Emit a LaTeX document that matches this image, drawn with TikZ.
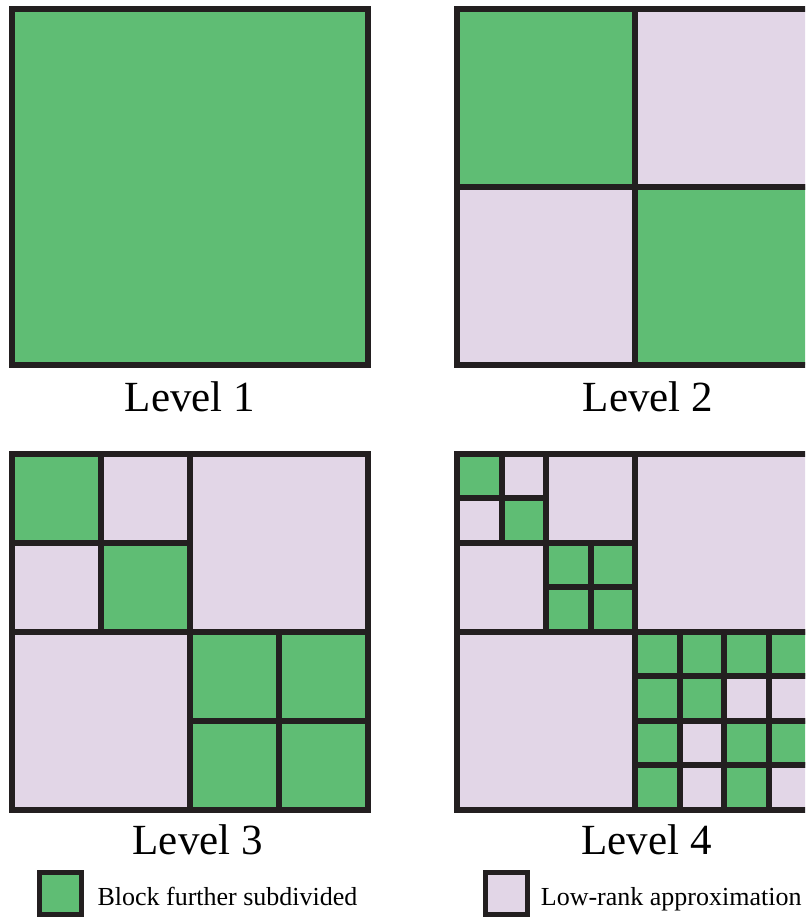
\documentclass[tikz,border=0pt]{standalone}
\usepackage{fontspec}
\setmainfont{Liberation Serif}
\definecolor{blockedge}{HTML}{231F20}
\definecolor{splitgreen}{HTML}{5FBD74}
\definecolor{lowlilac}{HTML}{E2D6E7}

\begin{document}
\begin{tikzpicture}[x=1pt,y=-1pt]
  \tikzset{blockcell/.style={draw=blockedge,line width=6pt}}
  \tikzset{splitcell/.style={blockcell,fill=splitgreen}}
  \tikzset{lowcell/.style={blockcell,fill=lowlilac}}
  \tikzset{levellabel/.style={anchor=base,inner sep=0pt,font=\fontsize{43}{46}\selectfont}}
  \tikzset{keybox/.style={draw=blockedge,line width=5pt,minimum size=42pt,inner sep=0pt}}
  \tikzset{keytext/.style={anchor=base west,inner sep=0pt,font=\fontsize{26}{30}\selectfont}}

  \useasboundingbox (0,0) rectangle (805,917);
  \clip (0,0) rectangle (805,917);

  % level 1
  \begin{scope}[shift={(12.3,9)},x=44.5pt,y=-44.5pt]
    \draw[splitcell] (0,0) rectangle (8,8);
  \end{scope}

  % level 2
  \begin{scope}[shift={(457.3,9)},x=44.5pt,y=-44.5pt]
    \draw[splitcell] (0,0) rectangle (4,4);
    \draw[lowcell]   (4,0) rectangle (8,4);
    \draw[lowcell]   (0,4) rectangle (4,8);
    \draw[splitcell] (4,4) rectangle (8,8);
  \end{scope}

  % level 3
  \begin{scope}[shift={(12.3,453.7)},x=44.5pt,y=-44.5pt]
    \draw[splitcell] (0,0) rectangle (2,2);
    \draw[lowcell]   (2,0) rectangle (4,2);
    \draw[lowcell]   (0,2) rectangle (2,4);
    \draw[splitcell] (2,2) rectangle (4,4);
    \draw[lowcell]   (4,0) rectangle (8,4);
    \draw[lowcell]   (0,4) rectangle (4,8);
    \draw[splitcell] (4,4) rectangle (6,6);
    \draw[splitcell] (6,4) rectangle (8,6);
    \draw[splitcell] (4,6) rectangle (6,8);
    \draw[splitcell] (6,6) rectangle (8,8);
  \end{scope}

  % level 4
  \begin{scope}[shift={(457.3,453.7)},x=44.5pt,y=-44.5pt]
    \draw[splitcell] (0,0) rectangle (1,1);
    \draw[lowcell]   (1,0) rectangle (2,1);
    \draw[lowcell]   (0,1) rectangle (1,2);
    \draw[splitcell] (1,1) rectangle (2,2);
    \draw[lowcell]   (2,0) rectangle (4,2);
    \draw[lowcell]   (0,2) rectangle (2,4);
    \draw[splitcell] (2,2) rectangle (3,3);
    \draw[splitcell] (3,2) rectangle (4,3);
    \draw[splitcell] (2,3) rectangle (3,4);
    \draw[splitcell] (3,3) rectangle (4,4);
    \draw[lowcell]   (4,0) rectangle (8,4);
    \draw[lowcell]   (0,4) rectangle (4,8);

    \draw[splitcell] (4,4) rectangle (5,5);
    \draw[splitcell] (5,4) rectangle (6,5);
    \draw[splitcell] (6,4) rectangle (7,5);
    \draw[splitcell] (7,4) rectangle (8,5);
    \draw[splitcell] (4,5) rectangle (5,6);
    \draw[splitcell] (5,5) rectangle (6,6);
    \draw[lowcell]   (6,5) rectangle (7,6);
    \draw[lowcell]   (7,5) rectangle (8,6);
    \draw[splitcell] (4,6) rectangle (5,7);
    \draw[lowcell]   (5,6) rectangle (6,7);
    \draw[splitcell] (6,6) rectangle (7,7);
    \draw[splitcell] (7,6) rectangle (8,7);
    \draw[splitcell] (4,7) rectangle (5,8);
    \draw[lowcell]   (5,7) rectangle (6,8);
    \draw[splitcell] (6,7) rectangle (7,8);
    \draw[lowcell]   (7,7) rectangle (8,8);
  \end{scope}

  \node[levellabel] (lev1) at (190,411.7) {Level 1};
  \node[levellabel] (lev2) at (648,411.7) {Level 2};
  \node[levellabel] (lev3) at (197.7,854) {Level 3};
  \node[levellabel] (lev4) at (646.5,854) {Level 4};

  % legend
  \node[keybox,fill=splitgreen] (keysplit) at (60.3,893.3) {};
  \node[keytext] (keysplittext) at (97.3,905.5) {Block further subdivided};
  \node[keybox,fill=lowlilac] (keylow) at (506.3,893.3) {};
  \node[keytext] (keylowtext) at (540.7,905.5) {Low-rank approximation};
\end{tikzpicture}
\end{document}
